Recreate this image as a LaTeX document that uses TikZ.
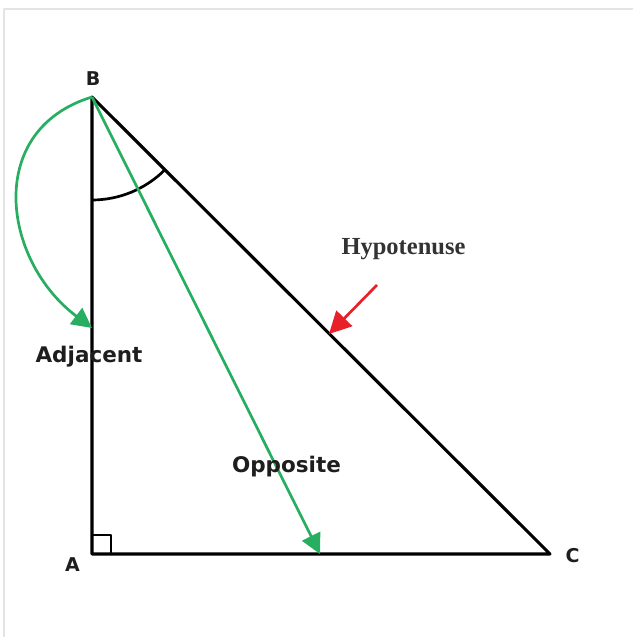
\documentclass[tikz,border=0pt]{standalone}
\usepackage{fontspec}
\usepackage{tikz}
\usetikzlibrary{arrows.meta, positioning, calc}
\newfontfamily\labelfont{DejaVu Sans}
\newfontfamily\hypfont{Liberation Serif}
\definecolor{sidegreen}{HTML}{27AE60}
\definecolor{hypred}{HTML}{E8202A}
\definecolor{framegray}{HTML}{E4E4E4}
\definecolor{labelink}{HTML}{1E1E1E}
\definecolor{hypink}{HTML}{333333}

\tikzset{
  vertexlabel/.style={anchor=base, text=labelink, font=\labelfont\bfseries\fontsize{19}{19}\selectfont},
  sidelabel/.style={anchor=base, text=labelink, font=\labelfont\bfseries\fontsize{21.5}{21.5}\selectfont},
  greenarrow/.style={sidegreen, line width=2.7pt, -{Triangle[length=20pt, width=20pt]}},
}

\begin{document}
\begin{tikzpicture}[x=1pt, y=1pt, line join=round]
        \useasboundingbox (0,0) rectangle (633,637);
        \draw[framegray, line width=1.5pt] (4,0) -- (4,628) -- (633,628);
        \coordinate (B) at (92, 540);
        \coordinate (A) at (92, 83);
        \coordinate (C) at (550, 83);
        \coordinate (oppTip) at (320, 83);
        \coordinate (adjTip) at (92, 309);
        \coordinate (hypTail) at (377, 352);
        \coordinate (hypTip) at (329, 303);
        \draw[line width=3.1pt] (A) -- (B) -- (C) -- cycle;
        \draw[line width=2.4pt] (A) ++(0,19) -- ++(19,0) -- ++(0,-19);
        \draw[line width=2.7pt] (B) ++(-90:103) arc[start angle=-90, end angle=-45, radius=103];
        \draw[greenarrow] (B) -- (oppTip);
        \draw[greenarrow] (B) to[out=197, in=143, looseness=1.25] (adjTip);
        \draw[hypred, line width=2.7pt, -{Triangle[length=22pt, width=22pt]}] (hypTail) -- (hypTip);
        \node[vertexlabel] (lblB) at (93, 551) {B};
        \node[vertexlabel] (lblA) at (72.5, 65) {A};
        \node[vertexlabel] (lblC) at (572.5, 74) {C};
        \node[sidelabel] (lblAdj) at (89, 274) {Adjacent};
        \node[sidelabel] (lblOpp) at (286.5, 164) {Opposite};
        \node[anchor=base, text=hypink, font=\hypfont\bfseries\fontsize{24.5}{24.5}\selectfont] (lblHyp) at (403.5, 382) {Hypotenuse};
    \end{tikzpicture}
\end{document}
